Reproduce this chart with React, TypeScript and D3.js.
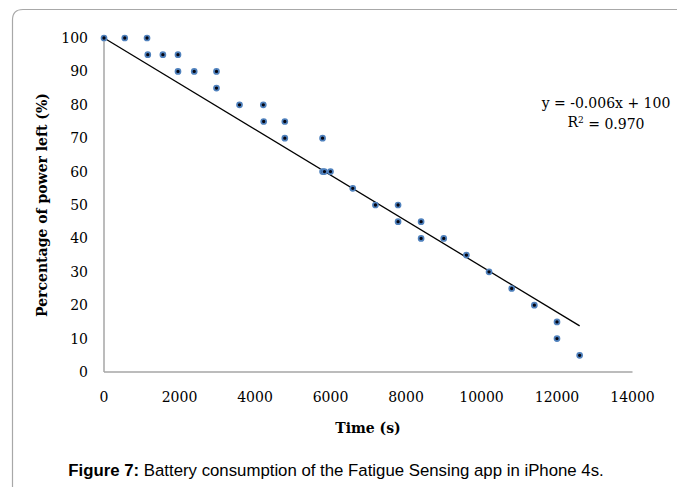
import React from "react";
import * as d3 from "d3";

const timeSeconds = [0, 550, 1140, 1160, 1560, 1960, 1960, 2390, 2980, 2980, 3590, 4220, 4230, 4790, 4790, 5790, 5790, 5840, 6000, 6590, 7190, 7790, 7790, 8400, 8400, 9000, 9600, 10200, 10800, 11400, 12000, 12000, 12600];
const powerLeft = [100, 100, 100, 95, 95, 95, 90, 90, 90, 85, 80, 80, 75, 75, 70, 70, 60, 60, 60, 55, 50, 50, 45, 45, 40, 40, 35, 30, 25, 20, 15, 10, 5];
const xTicks = [0, 2000, 4000, 6000, 8000, 10000, 12000, 14000];
const yTicks = [0, 10, 20, 30, 40, 50, 60, 70, 80, 90, 100];
const trendSlope = -0.00684;
const trendIntercept = 100;
const trendRange = [0, 12600];
const equationLines = ["y = -0.006x + 100"];

const W = 677;
const H = 487;

export default function App() {
  const x = d3.scaleLinear().domain([0, 14000]).range([104, 632.5]);
  const y = d3.scaleLinear().domain([0, 100]).range([372, 38]);
  const serif = "'DejaVu Serif', serif";
  const sans = "'Liberation Sans', Arial, sans-serif";
  const trendLine = d3
    .line<number>()
    .x((d) => x(d))
    .y((d) => y(trendIntercept + trendSlope * d))(trendRange);
  const pts = timeSeconds.map((t, i) => [t, powerLeft[i]]);

  return (
    <svg width={W} height={H} style={{ position: "absolute", left: 0, top: 0, background: "#fff" }}>
      <path d="M12.5,495 L12.5,20 Q12.5,9.5 23,9.5 L690,9.5" fill="none" stroke="#a8a8a8" strokeWidth={1.2} />
      {/* axes */}
      <line x1={x(0)} x2={x(0)} y1={y(100)} y2={y(0)} stroke="#a6a6a6" strokeWidth={1.5} />
      <line x1={x(0)} x2={x(14000)} y1={y(0)} y2={y(0)} stroke="#a6a6a6" strokeWidth={1.5} />
      {/* y ticks */}
      {yTicks.map((v) => (
        <text key={"y" + v} x={88} y={y(v)} dy="0.35em" textAnchor="end" fontFamily={serif} fontSize={14} fill="#000">
          {v}
        </text>
      ))}
      {xTicks.map((v) => (
        <text key={"x" + v} x={x(v)} y={397} dy="0.35em" textAnchor="middle" fontFamily={serif} fontSize={14} fill="#000">
          {v}
        </text>
      ))}
      {/* axis titles */}
      <text x={368} y={428} dy="0.35em" textAnchor="middle" fontFamily={serif} fontSize={14} fontWeight="bold" fill="#000">
        Time (s)
      </text>
      <text
        transform={`translate(42,${(y(0) + y(100)) / 2}) rotate(-90)`}
        dy="0.35em"
        textAnchor="middle"
        fontFamily={serif}
        fontSize={14}
        fontWeight="bold"
        fill="#000"
      >
        Percentage of power left (%)
      </text>
      {/* trendline */}
      <path d={trendLine || ""} fill="none" stroke="#000" strokeWidth={1.3} />
      {/* points */}
      {pts.map(([t, p], i) => (
        <circle key={i} cx={x(t)} cy={y(p)} r={2.5} fill="#050510" stroke="#4f81bd" strokeWidth={1.7} />
      ))}
      {/* equation */}
      <text x={606} y={103} dy="0.35em" textAnchor="middle" fontFamily={serif} fontSize={14} fill="#000">
        {equationLines[0]}
      </text>
      <text x={606} y={122} dy="0.35em" textAnchor="middle" fontFamily={serif} fontSize={14} fill="#000">
        R<tspan dy="-0.45em" fontSize={9}>2</tspan>
        <tspan dy="0.45em"> = 0.970</tspan>
      </text>
      {/* caption */}
      <text x={336} y={470} dy="0.35em" textAnchor="middle" fontFamily={sans} fontSize={16.8} fill="#000">
        <tspan fontWeight="bold">Figure 7:</tspan> Battery consumption of the Fatigue Sensing app in iPhone 4s.
      </text>
    </svg>
  );
}
